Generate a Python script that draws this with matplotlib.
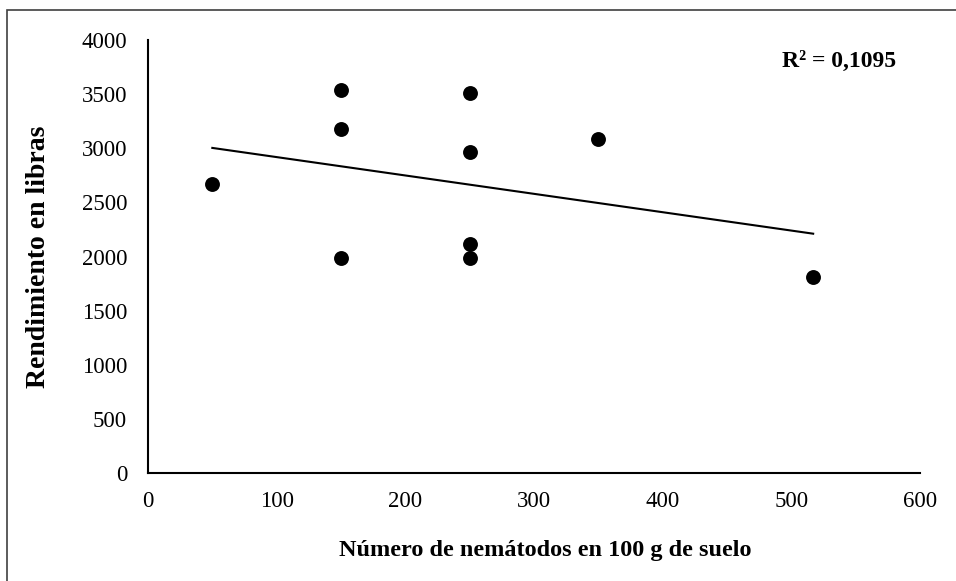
import matplotlib.pyplot as plt
import numpy as np
from matplotlib.patches import Rectangle

# Nematode counts (per 100 g soil) and yield (lb)
nematodos = [50, 150, 150, 150, 250, 250, 250, 250, 350, 517]
rendimiento = [2670, 3540, 3175, 1990, 3515, 2965, 2120, 1990, 3090, 1815]

x_ticks = [0, 100, 200, 300, 400, 500, 600]
y_ticks = [0, 500, 1000, 1500, 2000, 2500, 3000, 3500, 4000]

plt.rcParams["font.family"] = ["Liberation Serif", "DejaVu Serif"]

fig = plt.figure(figsize=(9.56, 5.81), dpi=100)
ax = fig.add_axes([0.1548, 0.1854, 0.8075, 0.7458])

x = np.array(nematodos, dtype=float)
y = np.array(rendimiento, dtype=float)
ax.scatter(x, y, s=115, color="black", zorder=3, linewidths=0)

# Linear trendline over the data range
slope, intercept = np.polyfit(x, y, 1)
xs = np.array([x.min(), x.max()])
ax.plot(xs, slope * xs + intercept, color="black", lw=1.5, zorder=2)

ax.set_xlim(0, 600)
ax.set_ylim(0, 4000)
ax.set_xticks(x_ticks)
ax.set_yticks(y_ticks)
ax.tick_params(length=0, labelsize=16.5, pad=13)
ax.tick_params(axis="y", pad=15)
for side in ["top", "right"]:
    ax.spines[side].set_visible(False)
for side in ["left", "bottom"]:
    ax.spines[side].set_linewidth(1.5)

ax.set_xlabel("Número de nemátodos en 100 g de suelo", fontsize=17.5,
              fontweight="bold")
ax.xaxis.set_label_coords(0.515, -0.155)
ax.set_ylabel("Rendimiento en libras", fontsize=20, fontweight="bold")
ax.yaxis.set_label_coords(-0.125, 0.5)

ax.text(0.969, 0.95, "R² = 0,1095", transform=ax.transAxes, ha="right",
        va="center", fontsize=17, fontweight="bold")

# Chart area border
fig.patches.append(Rectangle((7 / 956, -0.05), 1.05, 1 + 0.05 - 10 / 581,
                             transform=fig.transFigure, fill=False,
                             edgecolor="#404040", lw=1.2))

fig.savefig("out.png", dpi=100)
